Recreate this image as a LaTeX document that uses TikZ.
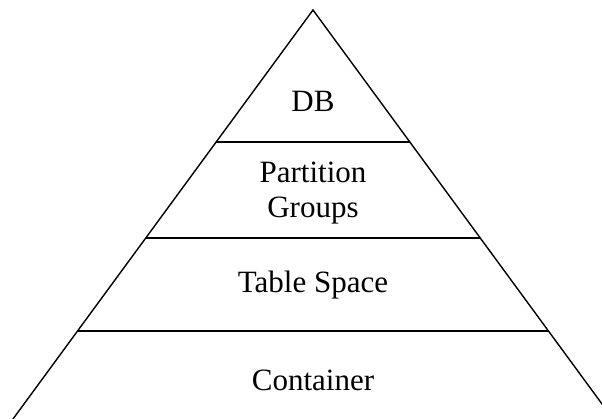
\documentclass[tikz,border=0pt]{standalone}
\usepackage{fontspec}
\setmainfont{Liberation Serif}
\begin{document}
\begin{tikzpicture}[x=1pt,y=1pt,
  edge/.style={line width=1.4pt, line join=miter},
  lbl/.style={font=\fontsize{31}{35}\selectfont, align=center, inner sep=0pt}]
\useasboundingbox (0,0) rectangle (602,419);
\clip (0,0) rectangle (602,419);
\coordinate (apex) at (313,409);
\coordinate (bl) at (13,0);
\coordinate (br) at (613,0);
\draw[edge] (bl) -- (apex) -- (br);
\coordinate (l1) at (216.2,277); \coordinate (r1) at (409.8,277);
\coordinate (l2) at (146,181);   \coordinate (r2) at (480,181);
\coordinate (l3) at (78,88);     \coordinate (r3) at (548,88);
\draw[edge] (l1) -- (r1);
\draw[edge] (l2) -- (r2);
\draw[edge] (l3) -- (r3);
\node[lbl] (db) at (313,318) {DB};
\node[lbl] (pg) at (313,226) {Partition\\Groups};
\node[lbl] (ts) at (313,134) {Table Space};
\node[lbl] (ct) at (313,39) {Container};
\end{tikzpicture}
\end{document}
